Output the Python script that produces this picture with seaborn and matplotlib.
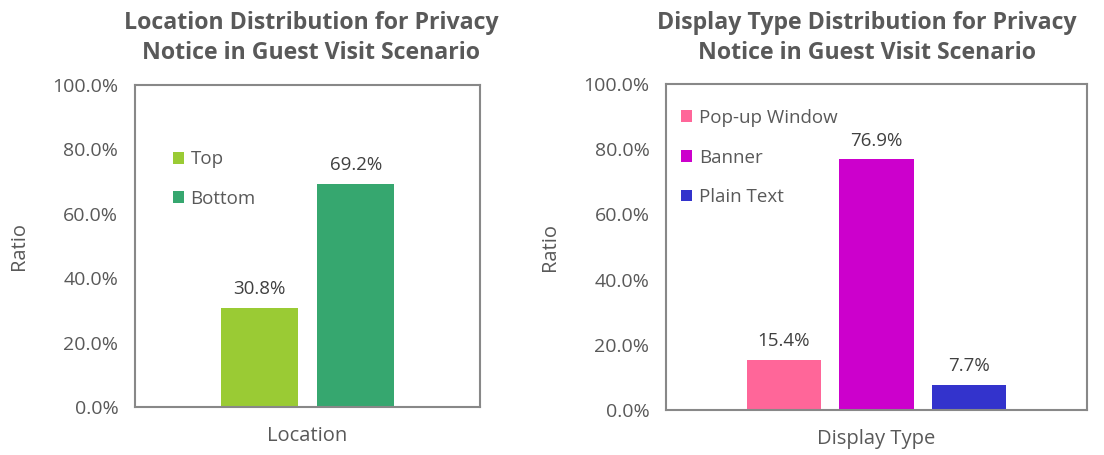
import pandas as pd
import numpy as np
import seaborn as sns
import matplotlib.pyplot as plt
from matplotlib.ticker import PercentFormatter

# values
loc_labels = ["Top", "Bottom"]
loc_ratio = [0.308, 0.692]
loc_colors = ["#9ACB34", "#36A76F"]

type_labels = ["Pop-up Window", "Banner", "Plain Text"]
type_ratio = [0.154, 0.769, 0.077]
type_colors = ["#FF6699", "#CC00CC", "#3333CC"]

titles = ["Location Distribution for Privacy\nNotice in Guest Visit Scenario",
          "Display Type Distribution for Privacy\nNotice in Guest Visit Scenario"]
xlabels = ["Location", "Display Type"]

sns.set_theme(style="white")
plt.rcParams["font.family"] = ["Open Sans", "DejaVu Sans"]
grey = "#595959"

fig = plt.figure(figsize=(11.04, 4.55), dpi=100)
ax1 = fig.add_axes([0.1223, 0.1055, 0.3125, 0.7077])
ax2 = fig.add_axes([0.6033, 0.0989, 0.3813, 0.7165])

def draw(ax, labels, ratio, colors, width, xlabel, leg_anchor):
    df = pd.DataFrame({"grp": [xlabel] * len(labels), "label": labels, "ratio": ratio})
    sns.barplot(data=df, x="grp", y="ratio", hue="label", hue_order=labels,
                palette=colors, width=width, gap=0.2, saturation=1,
                linewidth=0, ax=ax)
    for cont, v in zip(ax.containers, ratio):
        ax.bar_label(cont, labels=[f"{v:.1%}"], padding=7, fontsize=13.5, color="#404040")
    ax.set_ylim(0, 1)
    ax.set_xlim(-0.5, 0.5)
    ax.set_yticks(np.arange(0, 1.01, 0.2))
    ax.yaxis.set_major_formatter(PercentFormatter(1.0, decimals=1))
    ax.tick_params(axis="y", labelsize=14, colors=grey, length=0, pad=12)
    ax.set_xticks([])
    ax.set_xlabel(xlabel, fontsize=14.5, color=grey, labelpad=14)
    ax.set_ylabel("Ratio", fontsize=14.5, color=grey, labelpad=17)
    for s in ax.spines.values():
        s.set_color("#888888")
        s.set_linewidth(1.5)
    ax.legend(loc="upper left", bbox_to_anchor=leg_anchor, frameon=False,
              handlelength=0.6, handleheight=0.6, handletextpad=0.35,
              labelspacing=1.15, fontsize=13.5, labelcolor=grey)

draw(ax1, loc_labels, loc_ratio, loc_colors, 0.56, xlabels[0], (0.06, 0.85))
draw(ax2, type_labels, type_ratio, type_colors, 0.66, xlabels[1], (-0.005, 0.975))

fig.text(0.282, 0.975, titles[0], ha="center", va="top", fontsize=16.7,
         fontweight="bold", color=grey, linespacing=1.3)
fig.text(0.785, 0.975, titles[1], ha="center", va="top", fontsize=16.7,
         fontweight="bold", color=grey, linespacing=1.3)

fig.savefig("out.png", dpi=100)
